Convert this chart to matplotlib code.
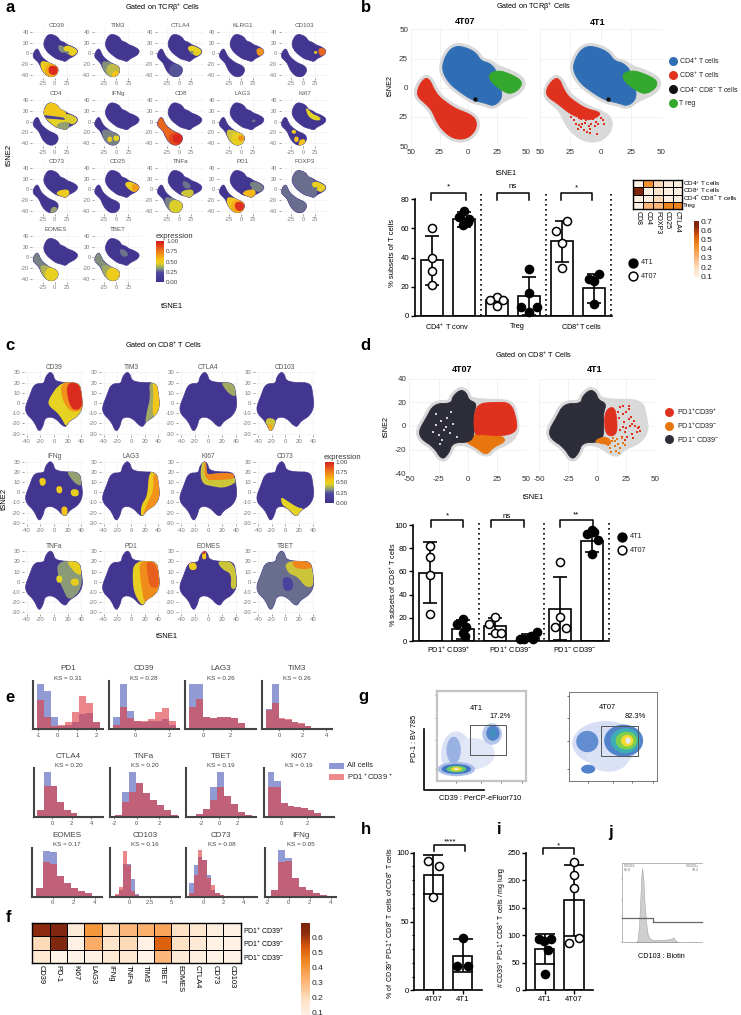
import numpy as np
import matplotlib
matplotlib.use('Agg')
import matplotlib.pyplot as plt
from matplotlib.colors import LinearSegmentedColormap
from matplotlib.patches import Polygon, Ellipse, PathPatch, Rectangle
from matplotlib.path import Path

W, H = 741, 1015
plt.rcParams['font.family'] = ['Liberation Sans', 'DejaVu Sans']
plt.rcParams['mathtext.default'] = 'regular'
plt.rcParams['axes.unicode_minus'] = False

# ---------- shapes of the tSNE clouds, read in data units ----------
LOBE_CD4 = [(-7,36),(-15,34),(-21,25),(-23,15),(-17,4),(-7,-4),(4,-11),(14,-13),(22,-16),(29,-10),(29,-1),(23,5),(25,14),(19,21),(11,23),(6,31)]
LOBE_TREG = [(18,12),(26,15),(36,12),(47,6),(45,-1),(36,-6),(27,-1),(19,6)]
LOBE_CD8 = [(-37,9),(-43,2),(-45,-7),(-37,-14),(-32,-19),(-28,-28),(-23,-36),(-13,-44),(-1,-44),(7,-36),(7,-27),(0,-22),(-11,-18),(-20,-12),(-26,-7),(-30,-1),(-33,6)]
LOBE_CD4_ALL = [(-7,36),(-15,34),(-21,25),(-23,15),(-17,4),(-7,-4),(4,-11),(14,-13),(22,-16),(29,-10),(36,-7),(45,-2),(48,6),(36,13),(26,16),(19,21),(11,23),(6,31)]
CD8_DENSE_4T1 = [(-37,9),(-44,1),(-45,-7),(-35,-14),(-27,-21),(-20,-25),(-10,-28),(-2,-25),(0,-21),(-12,-18),(-21,-12),(-27,-7),(-31,0),(-33,6)]
CD8_POINTS_4T1_X = [-18,-14,-11.5,-9,-20,-11.5,-3,2,-22,-16,-6,-13,-8,-4,0,-19,-15,-10,-5,-24,-18,-12,-7,-2,3,-20,-16,-3,-9]
CD8_POINTS_4T1_Y = [-32,-36,-38,-35,-23,-23,-23,-28,-28,-27,-27,-30,-31,-29,-26,-35,-31,-33,-33,-25,-26,-28,-26,-31,-31,-31,-34,-40,-39]

LOBE_C = [(-6,31),(-13,25),(-14,19),(-29,19),(-36,6),(-42,-4),(-40,-11),(-29,-18),(-22,-29),(-16,-23),(-13,-14),(1,-14),(16,-25),(22,-18),(35,-13),(42,-4),(40,9),(37,20),(14,20),(1,22),(-1,28)]
D_DARK_1 = [(-6,31),(-13,25),(-14,19),(-29,19),(-36,6),(-42,-4),(-40,-11),(-29,-18),(-22,-29),(-16,-23),(-13,-14),(1,-14),(6,-8),(5,10),(8,19),(1,22),(-1,28)]
D_RED = [(6,-8),(5,8),(9,19),(22,20),(37,20),(42,5),(42,-4),(34,-8),(20,-8),(12,-7)]
D_ORANGE = [(-3,-12),(6,-7),(14,-7),(29,-8),(33,-13),(22,-18),(16,-25),(8,-19),(1,-15)]
D_RED_4T1 = [(7,-6),(6,8),(9,15),(15,16),(17,5),(17,-6),(12,-9)]
D_ORANGE_4T1 = [(-3,-13),(5,-9),(11,-11),(12,-16),(4,-15)]
D_RED_PTS_X = [20,22,25,27,30,32,35,37,23,28,20,24,30,34,19,22,26,31,21,25,29,33,18,22,27,36,24,27]
D_RED_PTS_Y = [16,10,12,6,2,4,-2,-4,3,0,-3,-5,-7,-5,7,-1,-9,-10,-9,-2,8,0,12,17,17,-1,-12,14]
D_OR_PTS_X = [13,15,18,20,16,14,11,9,22,24,17,12,19,15,21]
D_OR_PTS_Y = [-13,-17,-15,-19,-21,-10,-19,-16,-14,-16,-11,-22,-23,-13,-10]
D_GAP_X = [-27,-23,-20,-15,-30,-25,-18,-22,-13,-9,-27,-19,-14,-24]
D_GAP_Y = [1,4,-3,-6,-5,-8,7,-12,2,-9,10,-1,12,-15]

# ---------- panel a regions and expression levels ----------
A_REGIONS = {
 'cd4': LOBE_CD4, 'treg': LOBE_TREG, 'cd8': LOBE_CD8,
 'treg_r': [(31,11),(49,8),(47,-4),(33,-5)],
 'treg_s': [(22,4),(30,4),(29,-1),(23,-1)],
 'cd8_low': [(-30,-14),(-14,-16),(0,-20),(9,-30),(2,-46),(-15,-46),(-28,-32)],
 'cd8_core': [(-16,-20),(0,-20),(9,-28),(4,-46),(-13,-46),(-22,-33)],
 'cd8_hot': [(-12,-23),(5,-24),(7,-36),(-2,-42),(-13,-37)],
 'cd8_tip': [(-7,-33),(6,-33),(3,-46),(-10,-46)],
 'cd4_low': [(3,-9),(14,-14),(24,-18),(31,-8),(28,0),(14,-1),(6,-4)],
 'cd4_up': [(-8,38),(7,33),(12,25),(21,22),(25,10),(-24,11),(-23,22)],
 'cd4_band': [(-25,13),(0,10),(24,7),(24,3),(0,5),(-19,6)],
 'cd4_mid': [(7,16),(18,14),(26,4),(16,0),(8,6)],
 'cd8_sp1': [(-24,-16),(-15,-15),(-14,-22),(-22,-23)],
 'cd8_sp2': [(-18,-28),(-9,-28),(-9,-38),(-18,-38)],
 'cd8_sp3': [(-6,-26),(6,-26),(6,-36),(-6,-36)],
 'ki_top': [(6,28),(20,14),(30,11),(37,6),(34,2),(22,3),(12,9),(7,18)],
}
A_MARKERS = ['CD39','TIM3','CTLA4','KLRG1','CD103','CD4','IFNg','CD8','LAG3','KI67','CD73','CD25','TNFa','PD1','FOXP3','EOMES','TBET']
A_EXPR = {
 'CD39': [('cd4_mid',.32),('treg',.47),('treg_s',.3),('cd8_low',.5),('cd8_core',.62),('cd8_hot',.95)],
 'TIM3': [('cd8_low',.32),('cd8_core',.4),('cd8_tip',.55)],
 'CTLA4': [('treg',.47),('treg_s',.3),('cd8_core',.24)],
 'KLRG1': [('treg_r',.68)],
 'CD103': [('treg_r',.8),('treg_s',.52)],
 'CD4': [('cd4',.46),('cd4_up',.52),('cd4_band',.15),('treg',.44),('cd4_low',.34)],
 'IFNg': [('cd8_low',.3),('cd8_sp2',.48),('cd8_sp3',.45)],
 'CD8': [('cd8',.8),('cd8_core',.88),('cd8_hot',.96)],
 'LAG3': [('cd8_low',.42),('cd8_core',.48),('cd8_sp3',.68),('treg_s',.28)],
 'KI67': [('ki_top',.45),('cd8_sp1',.52),('cd8_sp2',.55),('cd8_tip',.55)],
 'CD73': [('cd4_low',.5),('cd8_tip',.35)],
 'CD25': [('treg',.5),('treg_r',.66)],
 'TNFa': [('cd4_low',.42),('cd4_mid',.28),('cd8_low',.3),('cd8_core',.44)],
 'PD1': [('treg_s',.35),('cd4_low',.58),('treg',.3),('cd8_low',.52),('cd8_core',.62),('cd8_hot',.93)],
 'FOXP3': [('cd4',.27),('cd8',.27),('treg',.47),('treg_s',.28)],
 'EOMES': [('cd8',.3),('cd8_low',.38),('cd8_core',.47)],
 'TBET': [('cd4_mid',.28),('cd8',.32),('cd8_low',.36),('cd8_core',.5)],
}
# ---------- panel c regions and expression levels ----------
C_REGIONS = {
 'all': LOBE_C,
 'wedge': [(-8,4),(10,21),(42,21),(44,-6),(20,-27),(8,-11),(-8,-3)],
 'core': [(9,21),(40,21),(44,-6),(26,-10),(12,2)],
 'hot': [(18,20),(38,20),(43,-4),(28,-8),(20,3)],
 'rim': [(26,21),(40,21),(44,-6),(32,-15),(20,-23),(23,-8),(28,5)],
 'rim2': [(31,21),(40,21),(44,-6),(33,-15),(31,-5),(33,8)],
 'rim_lag': [(26,21),(40,21),(44,-5),(23,-24),(14,-24),(15,-12),(24,-4)],
 'rim_lag2': [(32,21),(42,12),(44,-5),(23,-24),(17,-23),(24,-10),(33,2)],
 'rim_top': [(18,21),(38,21),(41,6),(32,8),(24,14)],
 'tail': [(-31,-15),(-15,-15),(-13,-23),(-22,-31)],
 'tail2': [(-27,-21),(-17,-21),(-21,-31)],
 'sp1': [(-22,14),(-12,14),(-12,7),(-20,6)],
 'sp2': [(3,6),(12,6),(12,-1),(4,-1)],
 'sp3': [(24,3),(36,3),(36,-4),(25,-4)],
 'sp4': [(10,-14),(20,-14),(19,-24),(12,-24)],
 'sp5': [(10,16),(22,16),(22,8),(11,8)],
 'ki_band': [(-8,33),(-3,30),(-2,15),(10,16),(40,15),(40,9),(22,4),(5,6),(-8,8),(-12,18)],
 'ki_hot': [(-6,32),(-3,29),(-3,17),(12,19),(38,19),(38,13),(12,12),(-5,12)],
 'cd73': [(-7,-4),(4,-9),(18,-15),(28,-16),(18,-26),(8,-19),(1,-15),(-5,-12)],
 'pd_half': [(4,20),(40,22),(44,-6),(20,-27),(5,-13),(2,3)],
 'pd_in': [(12,21),(40,21),(44,-6),(20,-24),(16,-8),(13,5)],
 'pd_hot': [(22,21),(38,17),(42,-6),(28,-6),(24,6)],
 'tn_half': [(4,20),(38,21),(42,-6),(22,-20),(12,-6),(6,4)],
 'tip': [(-9,27),(-6,33),(-3,27),(-3,22),(-9,22)],
 'tip2': [(-8,32),(-6,33),(-4,31),(-5,27),(-8,27)],
 'eo_l': [(-29,19),(-18,19),(-16,12),(-27,11)],
 'eo_r': [(12,21),(38,20),(43,-6),(32,-8),(34,8),(20,12)],
 'tb_r': [(-2,20),(38,21),(43,-4),(30,-6),(18,5),(4,8)],
 'tb_t': [(10,22),(38,22),(40,12),(12,13)],
 'tb_d': [(-5,5),(10,4),(12,-8),(-2,-10)],
}
C_MARKERS = ['CD39','TIM3','CTLA4','CD103','IFNg','LAG3','KI67','CD73','TNFa','PD1','EOMES','TBET']
C_EXPR = {
 'CD39': [('wedge',.46),('core',.68),('hot',.95)],
 'TIM3': [('rim',.36),('rim2',.52)],
 'CTLA4': [('rim_top',.36)],
 'CD103': [('tail',.42),('tail2',.62)],
 'IFNg': [('rim_top',.34),('sp1',.5),('sp2',.5),('sp3',.48),('sp4',.55)],
 'LAG3': [('rim_lag',.5),('rim_lag2',.68)],
 'KI67': [('ki_band',.42),('ki_hot',.72)],
 'CD73': [('cd73',.45)],
 'TNFa': [('tn_half',.33),('rim_top',.48),('sp3',.48),('sp2',.45)],
 'PD1': [('pd_half',.48),('pd_in',.7),('pd_hot',.82)],
 'EOMES': [('tip',.55),('tip2',.95),('eo_l',.5),('eo_r',.42)],
 'TBET': [('all',.27),('tb_r',.42),('tb_t',.72),('tb_d',.18)],
}
# ---------- bar data ----------
B_MEANS = [38,66,11,14,51,19]
B_ERR = [17,5,2,13,14,10]
B_OPEN = [True,False,True,False,True,False]
B_PTS = [[(0,60),(0,40),(0,31),(0,21)],[(0,72),(-.15,68),(.12,64),(-.05,62),(.15,66)],[(0,13),(-.2,11),(.2,11),(0,7)],[(0,32),(0,16),(-.24,6),(.24,6),(0,3)],[(.18,65),(-.17,58),(0,50),(0,33)],[(.15,29),(-.15,25),(0,24),(0,8)]]
D_MEANS = [59,10,13,3,28,86]
D_ERR = [26,8,7,3,27,9]
D_PTS = [[(0,82),(0,72),(0,57),(0,23)],[(0,19),(-.18,15),(.1,12),(0,7),(.08,4)],[(0,21),(-.2,15),(0,7),(.17,7)],[(.3,8),(.1,4),(-.1,2),(.15,2),(-.25,2)],[(0,68),(0,21),(-.17,12),(.17,11)],[(0,96),(-.16,92),(.18,87),(0,75),(.05,94)]]
D_OPEN = [True,False,True,False,True,False]
D_CATS = ['PD1$^{+}$ CD39$^{+}$','PD1$^{+}$ CD39$^{-}$','PD1$^{-}$ CD39$^{-}$']
H_MEANS = [84,25]
H_ERR = [14,12]
H_PTS = [[(-.2,94),(.2,90),(0,68)],[(0,38),(-.2,18),(.2,18)]]
I_MEANS = [75,163]
I_ERR = [27,65]
I_PTS = [[(-.2,92),(.22,92),(.1,72),(0,29),(-.03,90)],[(0,233),(0,210),(0,186),(-.17,86),(.17,95)]]
# ---------- heat maps ----------
F_COLS = ['CD39','PD-1','Ki67','LAG3','IFNg','TNFa','TIM3','TBET','EOMES','CTLA4','CD73','CD103']
F_ROWS = ['PD1$^{+}$ CD39$^{+}$','PD1$^{+}$ CD39$^{-}$','PD1$^{-}$ CD39$^{-}$']
F_VALS = [[.65,.68,.12,.40,.20,.30,.32,.35,.18,.14,.10,.08],
          [.20,.68,.08,.33,.16,.20,.08,.52,.18,.13,.08,.08],
          [.14,.07,.07,.08,.13,.14,.07,.30,.13,.10,.07,.07]]
G_COLS = ['CD8','CD4','FOXP3','CD25','CTLA4']
G_ROWS = ['CD4$^{+}$ T cells','CD8$^{+}$ T cells','CD4$^{-}$ CD8$^{-}$ T cells','Treg']
G_VALS = [[.08,.42,.2,.1,.09],[.68,.08,.15,.08,.08],[.08,.08,.2,.08,.08],[.08,.3,.3,.45,.45]]
# ---------- histograms ----------
HISTS = [
 ('PD1','KS = 0.31',(-1,0,1,2),[137,116,36,11,13,23,45,50,23],[87,36,11,13,23,53,100,80,23]),
 ('CD39','KS = 0.28',(0,2),[38,137,55,26,23,26,26,31,13],[13,66,33,26,26,30,53,63,26]),
 ('LAG3','KS = 0.26',(0,2),[137,137,37,33,37,38,33,20,5],[66,91,37,33,37,38,33,20,5]),
 ('TIM3','KS = 0.26',(0,2,4),[60,137,31,28,22,17,10,4],[58,78,33,30,23,18,11,5]),
 ('CTLA4','KS = 0.20',(0,2,4),[22,137,95,47,22,12,5,3,1],[22,95,95,47,22,12,5,3,1]),
 ('TNFa','KS = 0.20',(-2,0,2),[7,75,137,102,72,52,37,22,7],[7,47,77,102,72,52,37,22,7]),
 ('TBET','KS = 0.19',(-2,0,2),[3,11,24,91,137,65,39,17,7],[3,11,24,52,92,65,39,17,7]),
 ('KI67','KS = 0.19',(0,2),[137,109,42,35,30,27,22,12,5],[90,90,42,35,30,27,22,12,5]),
 ('EOMES','KS = 0.17',(0,2,4),[28,138,136,63,41,28,19,11,4],[28,104,98,63,41,28,19,11,4]),
 ('CD103','KS = 0.16',(0,2.5,5),[5,20,98,98,54,8,2],[8,30,138,96,18,5,2]),
 ('CD73','KS = 0.08',(0,2,4),[41,96,121,111,66,21,11,6,2],[11,66,140,111,56,36,11,6,2]),
 ('IFNg','KS = 0.05',(-2,0,2,4),[21,141,116,56,31,21,11,6,3],[21,106,109,56,31,21,11,6,3]),
]
# ---------- flow plots: centre x, y, width, height, level ----------
FLOW_4T1 = [(.22,.3,.34,.5,.02),(.4,.3,.5,.35,.01),(.22,.13,.42,.16,.1),(.22,.13,.33,.11,.22),(.22,.13,.22,.075,.5),(.22,.13,.12,.045,.75),(.22,.13,.05,.02,1),(.19,.34,.16,.3,.12),(.62,.52,.22,.24,.08),(.63,.53,.15,.17,.2),(.63,.53,.07,.09,.28)]
FLOW_4T07 = [(.42,.42,.76,.5,.03),(.45,.3,.5,.4,.02),(.22,.13,.16,.1,.2),(.21,.44,.25,.24,.18),(.62,.45,.44,.36,.2),(.64,.45,.33,.28,.36),(.65,.45,.24,.2,.55),(.66,.45,.14,.13,.75),(.67,.45,.06,.07,1)]
J_X = [.17,.19,.21,.225,.24,.25,.265,.28,.30,.32,.35,.4,.45,.5,.55,.6,.65,.66,.7]
J_Y = [0,.02,.2,.5,.85,.94,.8,.5,.25,.1,.04,.03,.03,.03,.035,.04,.06,.03,0]

# ---------- colours ----------
expr_cmap = LinearSegmentedColormap.from_list('expr',[(0,'#41348f'),(.22,'#4c46a0'),(.33,'#8a9a78'),(.45,'#e3d323'),(.55,'#f6c416'),(.75,'#ee7a1c'),(1,'#d7191f')])
heat_cmap = LinearSegmentedColormap.from_list('heat',[(0,'#fff5eb'),(.2,'#fde2c6'),(.4,'#fdb374'),(.6,'#f08a24'),(.75,'#d95a0b'),(.9,'#8f2d0e'),(1,'#7a2510')])
flow_cmap = LinearSegmentedColormap.from_list('flow',[(0,'#e6ebf8'),(.1,'#a9bce8'),(.22,'#3f76c4'),(.4,'#3dbfb0'),(.55,'#7ed04b'),(.75,'#f4dc2c'),(1,'#ef5a1a')])
GRAY_T = '#7a7a7a'
HALO = '#d9d9d9'
BLUE, RED, BLACK, GREEN = '#2f6db5', '#e0301e', '#111111', '#34a82c'
ORANGE, DARK = '#e8760f', '#2d2d3a'

fig = plt.figure(figsize=(W/100, H/100), dpi=100)
def pax(x0, y0, x1, y1, **k):
    return fig.add_axes([x0/W, 1-y1/H, (x1-x0)/W, (y1-y0)/H], **k)
ov = pax(0, 0, W, H)
ov.set_xlim(0, W); ov.set_ylim(H, 0); ov.axis('off'); ov.set_zorder(20); ov.patch.set_alpha(0)
def T(x, y, s, size=5.2, ha='center', va='center', **k):
    ov.text(x, y, s, fontsize=size, ha=ha, va=va, **k)
def smooth(pts, n=2):
    p = np.array(pts, float)
    for _ in range(n):
        q = np.roll(p, -1, axis=0)
        r = np.empty((2*len(p), 2))
        r[0::2] = .75*p + .25*q
        r[1::2] = .25*p + .75*q
        p = r
    return p

for s, x, y in [('a',10,7),('b',366,7),('c',10,346),('d',365,346),('e',10,698),('f',9,918),('g',363,696),('h',366,830),('i',499,830),('j',611,832)]:
    T(x, y, s, size=12, weight='bold')

# ---------- small expression panels ----------
def expr_panel(cx, cy, sx, sy, xlim, ylim, xt, yt, lobes, regions, spec, title, ts, ls):
    ax = pax(cx+xlim[0]*sx, cy-ylim[1]*sy, cx+xlim[1]*sx, cy-ylim[0]*sy)
    ax.set_xlim(*xlim); ax.set_ylim(*ylim)
    ax.set_xticks(xt); ax.set_yticks(yt)
    ax.grid(color='#f2f2f2', lw=.5); ax.set_axisbelow(True)
    for s in ax.spines.values(): s.set_visible(False)
    ax.tick_params(labelsize=ls, length=1.5, width=.5, color=GRAY_T, labelcolor=GRAY_T, pad=1)
    ax.set_title(title, fontsize=ts, color='#555555', pad=1.5)
    polys = [smooth(l) for l in lobes]
    verts, codes = [], []
    for p in polys:
        verts += list(p) + [p[0]]
        codes += [Path.MOVETO] + [Path.LINETO]*(len(p)-1) + [Path.CLOSEPOLY]
    clip = PathPatch(Path(verts, codes), transform=ax.transData, fc=expr_cmap(.03), ec=expr_cmap(.03), lw=.5)
    ax.add_patch(clip)
    for name, lev in spec:
        pg = Polygon(smooth(regions[name]), fc=expr_cmap(lev), ec='none')
        ax.add_patch(pg); pg.set_clip_path(clip)
    return ax

ax0 = [54.7,116.3,179,241,303]; ay0 = [53.3,121.7,189.3,257.3]
for i, m in enumerate(A_MARKERS):
    r, c = divmod(i, 5)
    expr_panel(ax0[c], ay0[r], .487, .533, (-46,52), (-46,46), [-25,0,25], [-40,-20,0,20,40], [LOBE_CD4_ALL, LOBE_CD8], A_REGIONS, A_EXPR[m], m, 4.5, 4.1)
cx0 = [54,131,208.3,285.3]; cy0 = [403,492.3,581.7]
for i, m in enumerate(C_MARKERS):
    r, c = divmod(i, 4)
    expr_panel(cx0[c], cy0[r], .687, 1.017, (-44,44), (-31.5,31.5), [-40,-20,0,20,40], [-30,-20,-10,0,10,20,30], [LOBE_C], C_REGIONS, C_EXPR[m], m, 4.8, 4.3)

def cbar(x0, y0, x1, y1, ticks, cm, lo=0, hi=1, size=4.5, fmt='%.2f', col='#444444', vr=(0,1)):
    a = pax(x0, y0, x1, y1)
    a.imshow(np.linspace(hi, lo, 128)[:, None], cmap=cm, aspect='auto', extent=[0,1,lo,hi], vmin=vr[0], vmax=vr[1])
    a.set_xticks([]); a.yaxis.tick_right()
    a.set_yticks(ticks); a.set_yticklabels([fmt % t for t in ticks])
    a.tick_params(labelsize=size, length=0, pad=1.5, labelcolor=col)
    for s in a.spines.values(): s.set_visible(False)
    a.set_ylim(lo, hi)
cbar(156, 241, 164, 282, [0,.25,.5,.75,1], expr_cmap)
T(174, 236, 'expression', 5.6, color='#333333')
cbar(324.7, 462, 333.3, 503, [0,.25,.5,.75,1], expr_cmap)
T(342.7, 457.7, 'expression', 5.6, color='#333333')

# ---------- large tSNE maps ----------
def big(cx, cy, sx, sy, xlim, ylim, xt, yt, xl=None, yl=None, ylab=True):
    ax = pax(cx+xlim[0]*sx, cy-ylim[1]*sy, cx+xlim[1]*sx, cy-ylim[0]*sy)
    ax.set_xlim(*xlim); ax.set_ylim(*ylim)
    ax.set_xticks(xt); ax.set_yticks(yt)
    ax.set_xticklabels(xl if xl else xt)
    if ylab: ax.set_yticklabels(yl if yl else yt)
    else: ax.tick_params(labelleft=False)
    ax.grid(color='#f0f0f0', lw=.6); ax.set_axisbelow(True)
    for s in ax.spines.values(): s.set_visible(False)
    ax.tick_params(labelsize=5.8, length=0, pad=2, labelcolor='#333333')
    return ax
def blob(ax, pts, fc, z=3):
    ax.add_patch(Polygon(smooth(pts), fc=fc, ec=fc, lw=.6, zorder=z))
def halo(ax, pts):
    ax.add_patch(Polygon(smooth(pts), fc=HALO, ec=HALO, lw=5, joinstyle='round', zorder=1))

tk = [-50,-25,0,25,50]; tkl = ['50','25','0','25','50']
for cx, sx, lab, dense in [(468.3,1.15,True,True),(600.7,1.217,False,False)]:
    ax = big(cx, 87.7, sx, 1.167, (-50,50), (-50,50), tk, tk, tkl, tkl, lab)
    halo(ax, LOBE_CD4_ALL); halo(ax, LOBE_CD8)
    blob(ax, LOBE_CD4, BLUE); blob(ax, LOBE_TREG, GREEN, 4)
    ax.scatter([6],[-10], s=10, c=BLACK, zorder=5, lw=0)
    if dense:
        blob(ax, LOBE_CD8, RED)
    else:
        blob(ax, CD8_DENSE_4T1, RED)
        ax.scatter(CD8_POINTS_4T1_X, CD8_POINTS_4T1_Y, s=3, c=RED, lw=0, zorder=5, marker='s')
for lab, col, y in [('CD4$^{+}$ T cells',BLUE,60.7),('CD8$^{+}$ T cells',RED,74.7),('CD4$^{-}$ CD8$^{-}$ T cells',BLACK,89),('T reg',GREEN,103.3)]:
    ov.scatter([672.7],[y], s=42, c=col, lw=0)
    T(678.7, y, lab, 5.0, ha='left', color='#222222')
T(465,21.7,'4T07',6.5,weight='bold'); T(597.3,22.3,'4T1',6.5,weight='bold')
T(162.3,8.3,'Gated on TCRβ$^{+}$ Cells',5.3); T(534,7.3,'Gated on TCRβ$^{+}$ Cells',5.3)
T(163.3,345,'Gated on CD8$^{+}$ T Cells',5.3); T(533.3,355,'Gated on CD8$^{+}$ T Cells',5.3)
T(9,155,'tSNE2',5.5,rotation=90); T(172.3,306,'tSNE1',5.5)
T(390,85,'tSNE2',5.2,rotation=90); T(506.7,173.3,'tSNE1',5.2)
T(4.5,499,'tSNE2',5.5,rotation=90); T(166.7,636.7,'tSNE1',5.5)
T(386.7,426.7,'tSNE2',5.2,rotation=90); T(533.7,497.7,'tSNE1',5.2)

dxt = [-50,-25,0,25,50]; dyt = [-40,-20,0,20,40]
for cx, sx, lab, dense in [(467.7,1.167,True,True),(597.3,1.157,False,False)]:
    ax = big(cx, 426, sx, 1.183, (-50,50), (-40,40), dxt, dyt, None, None, lab)
    halo(ax, LOBE_C)
    if dense:
        blob(ax, D_DARK_1, DARK); blob(ax, D_RED, RED); blob(ax, D_ORANGE, ORANGE, 2.5)
        ax.scatter(D_GAP_X, D_GAP_Y, s=3, c='#cfcfcf', lw=0, zorder=5, marker='s')
    else:
        blob(ax, D_DARK_1, DARK); blob(ax, D_RED_4T1, RED); blob(ax, D_ORANGE_4T1, ORANGE)
        ax.scatter(D_RED_PTS_X, D_RED_PTS_Y, s=3, c=RED, lw=0, zorder=5, marker='s')
        ax.scatter(D_OR_PTS_X, D_OR_PTS_Y, s=3, c=ORANGE, lw=0, zorder=5, marker='s')
T(461.7,369.3,'4T07',6.5,weight='bold'); T(594.3,369.3,'4T1',6.5,weight='bold')
for lab, col, y in [('PD1$^{+}$CD39$^{+}$',RED,412.3),('PD1$^{+}$CD39$^{-}$',ORANGE,426),('PD1$^{-}$ CD39$^{-}$',DARK,439.3)]:
    ov.scatter([669.3],[y], s=42, c=col, lw=0)
    T(677.3, y, lab, 5.2, ha='left', color='#222222')

# ---------- bars ----------
def bar_ax(x0, y0, x1, y1, xlim, ylim, yt, minor=None):
    a = pax(x0, y0, x1, y1)
    a.set_xlim(*xlim); a.set_ylim(*ylim); a.set_yticks(yt)
    if minor is not None:
        a.set_yticks(minor, minor=True)
    for s in ['top','right']: a.spines[s].set_visible(False)
    for s in ['left','bottom']: a.spines[s].set_linewidth(1.2)
    a.tick_params(labelsize=5.6, length=3, width=1, pad=1)
    a.tick_params(which='minor', length=1.8, width=.8)
    a.patch.set_alpha(0)
    return a
def draw_bars(a, means, errs, pts, opn, wid=.68, cap=.22, ms=34):
    xs = np.arange(len(means))
    a.bar(xs, means, wid, fc='white', ec='black', lw=1.2, zorder=2)
    a.errorbar(xs, means, yerr=errs, fmt='none', ecolor='black', elinewidth=1.2, capsize=cap*32*.72, capthick=1.2, zorder=3)
    for x, pp, o in zip(xs, pts, opn):
        a.scatter([x+p[0] for p in pp], [p[1] for p in pp], s=ms, fc='white' if o else 'black', ec='black', lw=1.1, zorder=4, clip_on=False)
a = bar_ax(415, 199, 612, 316, (-.514,5.55), (0,80), [0,20,40,60,80])
a.set_xticks([]); draw_bars(a, B_MEANS, B_ERR, B_PTS, B_OPEN)
a = bar_ax(413, 525, 609, 641, (-.54,5.51), (0,100), [0,20,40,60,80,100])
a.set_xticks([]); draw_bars(a, D_MEANS, D_ERR, D_PTS, D_OPEN)
a = bar_ax(414.3, 852.7, 481.7, 990.3, (-.66,1.66), (0,100), [0,50,100], np.arange(0,101,10))
a.set_xticks([0,1]); a.set_xticklabels(['4T07','4T1'])
draw_bars(a, H_MEANS, H_ERR, H_PTS, [True,False], wid=.66, cap=.3)
a = bar_ax(525.7, 852.7, 593.3, 990, (-.65,1.66), (0,250), [0,50,100,150,200,250])
a.set_xticks([0,1]); a.set_xticklabels(['4T1','4T07'])
draw_bars(a, I_MEANS, I_ERR, I_PTS, [False,True], wid=.66, cap=.3)

def bracket(x0, x1, y0, y1, s, ty):
    ov.plot([x0,x0,x1,x1],[y1,y0,y0,y1], color='black', lw=1.1)
    T((x0+x1)/2, ty, s, 5.8)
bracket(431,465.7,192.7,199.5,'*',187); bracket(496.7,529.3,192.7,199.5,'ns',186.5); bracket(560.7,592.3,192.7,199.5,'*',188)
bracket(430.7,463.3,520,526.7,'*',516); bracket(490.7,523.7,520,526.7,'ns',516); bracket(560,592.7,520,526.7,'**',515)
bracket(434.3,465,845.3,851,'****',841.5); bracket(542.7,574,848.3,853.5,'*',845.5)
for x in [480.7,545.7,610.7]:
    ov.plot([x,x],[194,316], color='black', lw=1.2, ls=(0,(1,2)))
for x in [479,543.7,609.3]:
    ov.plot([x,x],[523,641], color='black', lw=1.2, ls=(0,(1,2)))
T(446.7,326.7,'CD4$^{+}$ T conv',5.3); T(517,326.7,'Treg',5.3); T(581.7,326.7,'CD8$^{+}$T cells',5.3)
for x, s in zip([449,511,575], D_CATS): T(x,650,s,5.3)
T(393,253,'% subsets of T cells',5.5,rotation=90); T(392.7,585,'% subsets of CD8$^{+}$ T cells',5.1,rotation=90)
T(390,923,'% of  CD39$^{+}$ PD-1$^{+}$ CD8$^{+}$ T cells of CD8$^{+}$ T cells',5.0,rotation=90)
T(502,927,'# CD39$^{+}$ PD-1$^{+}$ CD8$^{+}$ T cells / mg lung',5.0,rotation=90)
for x, y, s, o in [(633,262.7,'4T1',False),(633,276,'4T07',True),(622,536.7,'4T1',False),(622,550,'4T07',True)]:
    ov.scatter([x],[y], s=40, fc='white' if o else 'black', ec='black', lw=1.1)
    T(x+8, y, s, 5.2, ha='left', color='#222222')

# ---------- heat maps ----------
def heat(x0, y0, x1, y1, vals, lw):
    a = pax(x0, y0, x1, y1)
    v = np.array(vals)
    a.pcolormesh(np.arange(v.shape[1]+1), np.arange(v.shape[0]+1), v, cmap=heat_cmap, vmin=.05, vmax=.7, edgecolors='black', linewidth=lw)
    a.set_ylim(v.shape[0], 0); a.set_xticks([]); a.set_yticks([])
    for s in a.spines.values(): s.set_linewidth(1.0)
heat(32.3, 923.3, 240.7, 962.7, F_VALS, .7)
for i, c in enumerate(F_COLS):
    T(32.3+(i+.5)*208.4/12, 965, c, 5.4, rotation=-90, va='top')
for y, s in zip([931,944.3,957.3], F_ROWS): T(242.7, y, s, 5, ha='left')
heat(633.3, 180, 682.3, 209.3, G_VALS, .5)
for i, c in enumerate(G_COLS):
    T(633.3+(i+.5)*49/5, 211, c, 5, rotation=-90, va='top')
for y, s in zip([184,191,198.3,205.7], G_ROWS): T(683.3, y, s, 4.6, ha='left')
cbar(694, 220.7, 698.7, 277, [.1,.2,.3,.4,.5,.6,.7], heat_cmap, lo=.09, hi=.71, size=6, fmt='%.1f', col='#222222', vr=(.05,.7))
cbar(301, 923, 309.3, 1015, [.1,.2,.3,.4,.5,.6], heat_cmap, lo=.08, hi=.7, size=6, fmt='%.1f', col='#222222', vr=(.05,.7))

# ---------- histograms ----------
HPOS = [[(98,310),(327,538),(556,768),(785,995)],[(101,310),(331,535),(557,768),(792,1003)],[(97,306),(329,541),(558,770),(795,1008)]]
HBASE = [(318,463),(580,727),(818,966)]
HSTART = [110,338,568,797,112,345,567,803,107,345,568,813]
HTICK0 = [173,405,610,838,157,410,658,844,158,387,611,866]
HUNIT = [58,51.5,41,35,29,34,27.5,39,31.5,25.4,29.5,31.5]
HBIN = [21,21,21,19.5,20,21,21,20,21,12,13,21]
for i, (name, ks, ticks, blue, red) in enumerate(HISTS):
    r, c = divmod(i, 4)
    (xa, xb), (yt, yb) = HPOS[r][c], HBASE[r]
    a = pax(xa/3, 575+yt/3, xb/3, 575+yb/3)
    u = HUNIT[i]; z = HTICK0[i]
    a.set_xlim((xa-z)/u, (xb-z)/u); a.set_ylim(0, yb-yt)
    e = (HSTART[i]-z)/u + HBIN[i]/u*np.arange(len(blue)+1)
    a.stairs(blue, e, fill=True, color='#4f5cb8', alpha=.62, lw=0)
    a.stairs(red, e, fill=True, color='#df3d42', alpha=.62, lw=0)
    a.set_xticks(ticks); a.set_xticklabels([str(t) for t in ticks])
    a.set_yticks([])
    for s in ['top','right']: a.spines[s].set_visible(False)
    for s in ['left','bottom']: a.spines[s].set_linewidth(1.5); a.spines[s].set_color('#444444')
    a.tick_params(labelsize=4.2, length=1.5, width=.5, pad=1, labelcolor='#555555', color='#555555')
    cx = (xa+xb)/2/3
    T(cx, 575+yt/3-12, name, 5.9, color='#444444')
    T(cx, 575+yt/3-3, ks, 4.5, color='#444444')
ov.add_patch(Rectangle((329,763),15,5.5,fc='#8f97d6',ec='none'))
ov.add_patch(Rectangle((329,774),15,5.5,fc='#ef8a8c',ec='none'))
T(347,765.5,'All cells',5.4,ha='left',color='#222222')
T(347,776.5,'PD1 $^{+}$CD39 $^{+}$',5.4,ha='left',color='#222222')

# ---------- flow plots ----------
def flow(x0, y0, x1, y1, blobs, edge, lw, gate):
    a = pax(x0, y0, x1, y1)
    a.set_xlim(0,1); a.set_ylim(0,1); a.set_xticks([.22,.5,.72,.95]); a.set_yticks([.13,.45,.7,.95])
    a.set_xticklabels(['','','','']); a.set_yticklabels(['','','',''])
    a.tick_params(length=1.5, width=.4)
    for s in a.spines.values(): s.set_color(edge); s.set_linewidth(lw)
    for cx, cy, w, h, lv in blobs:
        a.add_patch(Ellipse((cx,cy), w, h, fc=flow_cmap(lv), ec='none'))
    a.add_patch(Rectangle(gate[:2], gate[2], gate[3], fc='none', ec='#555555', lw=.7, zorder=5))
flow(436.7,691,526,780.7,FLOW_4T1,'#c4c4c4',1.6,(.37,.285,.41,.335))
flow(568.7,691.7,657.3,780.7,FLOW_4T07,'#777777',.7,(.37,.28,.41,.335))
ov.plot([423.7,423.7,484.3],[729,790,790], color='black', lw=1.2)
T(415,738.7,'PD-1 : BV 785',5.3,rotation=90); T(480,798,'CD39 : PerCP-eFluor710',5.3)
T(476.7,709,'4T1',5.4); T(500,716.7,'17.2%',5.4); T(607.7,707.7,'4T07',5.4); T(635.7,716.7,'82.3%',5.4)

# ---------- j ----------
a = pax(622.3,863.3,701.7,942.3)
a.fill_between(J_X, J_Y, color='#cfcfcf', ec='#a5a5a5', lw=.4)
a.set_xlim(0,1); a.set_ylim(0,1)
a.set_xticks([.1,.25,.42,.68,.92]); a.set_xticklabels(['','','','','']); a.set_yticks([0,.32,.54,.8]); a.set_yticklabels(['','','',''])
a.tick_params(length=1, width=.3, color='#777777')
a.spines['right'].set_visible(False)
for s in ['top','left','bottom']: a.spines[s].set_color('#999999'); a.spines[s].set_linewidth(.5)
ov.plot([622.3,653.3,653.3],[917.7,917.7,922],color='#666666',lw=.9)
ov.plot([653.3,701.7],[922,922],color='#666666',lw=.9)
T(624,868,'CD103-\n81.8',2.6,ha='left',color='#666666'); T(699,868,'CD103+\n18.2',2.6,ha='right',color='#666666')
T(661,956.7,'CD103 : Biotin',5.2)

fig.savefig('out.png', dpi=100)
